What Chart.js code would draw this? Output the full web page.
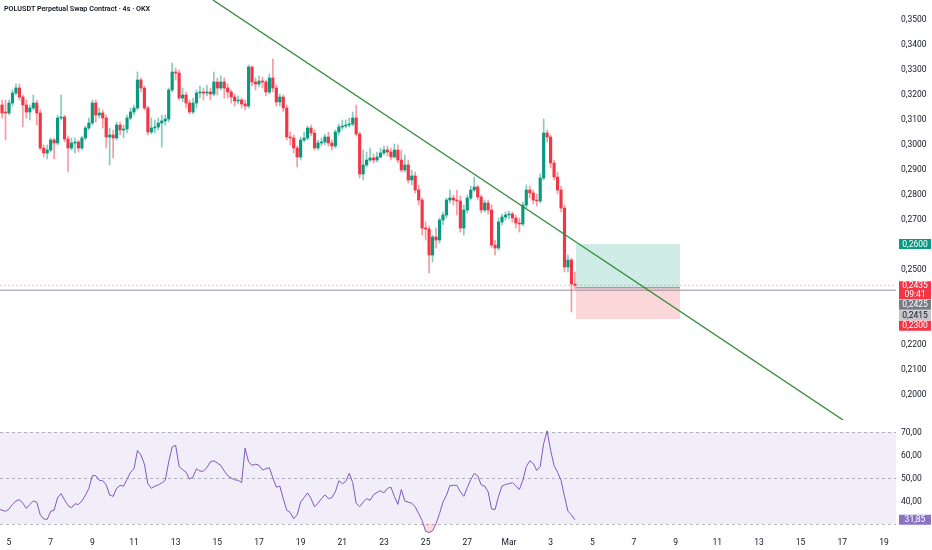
<!DOCTYPE html>
<html>
<head>
<meta charset="utf-8">
<script src="https://cdn.jsdelivr.net/npm/chart.js@4.4.1/dist/chart.umd.min.js"></script>
<style>
  html, body { margin: 0; padding: 0; background: #fff; }
  #wrap { position: relative; width: 932px; height: 550px; overflow: hidden; font-family: Roboto, "Noto Sans", sans-serif; }
  #pricebox { position: absolute; left: 0; top: 0; width: 932px; height: 420px; }
  #rsibox { position: absolute; left: 0; top: 422px; width: 932px; height: 128px; }
  #title { position: absolute; left: 4px; top: 4px; font-size: 7.2px; font-weight: 600; color: #131722; white-space: nowrap; }
</style>
</head>
<body>
<div id="wrap">
  <div id="pricebox"><canvas id="price"></canvas></div>
  <div id="rsibox"><canvas id="rsi"></canvas></div>
  <div id="title">POLUSDT Perpetual Swap Contract · 4s · OKX</div>
</div>
<script>
// 4h candles, first bar Feb 4 12:00 (x axis is day-of-February, Mar 1 = 29)
const firstBarDay = 4.5;
const barDays = 1 / 6;
const firstOpen = 0.3144;

const closes = [
  0.3156,0.3124,0.3124,0.3164,0.3204,0.3224,0.3188,0.3156,0.3128,0.3144,
  0.3164,0.3124,0.2984,0.2964,0.2976,0.3016,0.3004,0.3104,0.3108,0.3020,
  0.2984,0.3004,0.3008,0.2984,0.3024,0.3064,0.3084,0.3164,0.3116,0.3124,
  0.3104,0.3028,0.3036,0.3024,0.3076,0.3056,0.3060,0.3104,0.3128,0.3144,
  0.3256,0.3224,0.3144,0.3048,0.3064,0.3068,0.3084,0.3092,0.3100,0.3216,
  0.3288,0.3284,0.3184,0.3196,0.3164,0.3128,0.3164,0.3204,0.3208,0.3204,
  0.3208,0.3200,0.3248,0.3224,0.3248,0.3224,0.3208,0.3188,0.3172,0.3176,
  0.3160,0.3152,0.3308,0.3248,0.3240,0.3252,0.3248,0.3208,0.3264,0.3224,
  0.3168,0.3188,0.3144,0.3028,0.3024,0.2984,0.2948,0.3016,0.3024,0.3064,
  0.3044,0.2984,0.3004,0.3008,0.3028,0.3004,0.2992,0.3048,0.3068,0.3072,
  0.3076,0.3080,0.3104,0.3040,0.2880,0.2916,0.2936,0.2944,0.2936,0.2948,
  0.2964,0.2976,0.2968,0.2948,0.2976,0.2936,0.2896,0.2916,0.2856,0.2872,
  0.2816,0.2776,0.2664,0.2660,0.2556,0.2628,0.2616,0.2696,0.2716,0.2776,
  0.2784,0.2776,0.2772,0.2664,0.2736,0.2784,0.2816,0.2828,0.2788,0.2736,
  0.2764,0.2736,0.2596,0.2584,0.2688,0.2708,0.2716,0.2720,0.2704,0.2684,
  0.2680,0.2756,0.2816,0.2804,0.2776,0.2772,0.2864,0.3044,0.3028,0.2924,
  0.2868,0.2816,0.2744,0.2508,0.2536,0.2440,0.2435
];

const highs = [
  0.3236,0.3176,0.3176,0.3176,0.3216,0.3240,0.3240,0.3196,0.3176,0.3156,
  0.3196,0.3176,0.3136,0.2996,0.2996,0.3024,0.3024,0.3116,0.3196,0.3116,
  0.3032,0.3024,0.3024,0.3016,0.3032,0.3072,0.3104,0.3176,0.3176,0.3144,
  0.3136,0.3116,0.3064,0.3056,0.3088,0.3088,0.3076,0.3116,0.3144,0.3156,
  0.3288,0.3264,0.3232,0.3152,0.3104,0.3096,0.3104,0.3116,0.3116,0.3224,
  0.3324,0.3304,0.3296,0.3224,0.3208,0.3176,0.3184,0.3216,0.3232,0.3224,
  0.3236,0.3224,0.3288,0.3264,0.3272,0.3264,0.3240,0.3216,0.3200,0.3192,
  0.3184,0.3176,0.3316,0.3312,0.3264,0.3272,0.3268,0.3256,0.3280,0.3340,
  0.3236,0.3200,0.3196,0.3156,0.3048,0.3036,0.2992,0.3028,0.3048,0.3072,
  0.3076,0.3056,0.3016,0.3024,0.3040,0.3048,0.3016,0.3056,0.3080,0.3096,
  0.3096,0.3104,0.3128,0.3156,0.3048,0.2976,0.2968,0.2984,0.2960,0.2968,
  0.2984,0.2992,0.2992,0.2984,0.3000,0.2996,0.2976,0.2956,0.2936,0.2896,
  0.2888,0.2836,0.2784,0.2688,0.2672,0.2636,0.2664,0.2704,0.2728,0.2784,
  0.2816,0.2796,0.2816,0.2792,0.2756,0.2796,0.2832,0.2868,0.2836,0.2796,
  0.2776,0.2776,0.2756,0.2616,0.2704,0.2720,0.2728,0.2732,0.2728,0.2716,
  0.2704,0.2768,0.2836,0.2832,0.2816,0.2800,0.2880,0.3100,0.3056,0.3036,
  0.2936,0.2888,0.2832,0.2756,0.2556,0.2544,0.2488
];

const lows = [
  0.3128,0.3104,0.3016,0.3116,0.3152,0.3196,0.3176,0.3068,0.3104,0.3096,
  0.3136,0.3076,0.2976,0.2948,0.2940,0.2968,0.2940,0.2996,0.3096,0.3008,
  0.2888,0.2976,0.2964,0.2968,0.2976,0.3016,0.3056,0.3076,0.3088,0.3104,
  0.3064,0.2984,0.2916,0.2944,0.3016,0.3036,0.3024,0.3044,0.3096,0.3116,
  0.3136,0.3208,0.3136,0.3036,0.3040,0.3044,0.3056,0.2988,0.3076,0.3088,
  0.3208,0.3256,0.3176,0.3168,0.3144,0.3120,0.3120,0.3144,0.3184,0.3176,
  0.3192,0.3176,0.3192,0.3196,0.3216,0.3184,0.3184,0.3164,0.3152,0.3160,
  0.3144,0.3136,0.3144,0.3232,0.3216,0.3228,0.3224,0.3192,0.3200,0.3208,
  0.3152,0.3152,0.3128,0.3016,0.2996,0.2964,0.2908,0.2936,0.3008,0.3016,
  0.3032,0.2976,0.2976,0.2992,0.2996,0.2992,0.2976,0.2984,0.3036,0.3056,
  0.3064,0.3068,0.3072,0.3032,0.2864,0.2856,0.2908,0.2928,0.2924,0.2928,
  0.2944,0.2956,0.2952,0.2936,0.2944,0.2924,0.2888,0.2888,0.2844,0.2836,
  0.2804,0.2756,0.2636,0.2616,0.2484,0.2528,0.2584,0.2604,0.2676,0.2704,
  0.2764,0.2756,0.2716,0.2648,0.2636,0.2724,0.2776,0.2808,0.2776,0.2724,
  0.2728,0.2720,0.2584,0.2556,0.2576,0.2676,0.2696,0.2700,0.2688,0.2664,
  0.2648,0.2672,0.2744,0.2784,0.2760,0.2752,0.2764,0.2856,0.3008,0.2904,
  0.2856,0.2800,0.2728,0.2488,0.2488,0.2328,0.2420
];

const rsiValues = [
  36.5,36,35.5,36.5,38.5,40,40.6,39,36.8,38.5,
  40,39.5,34,32.2,32,35.5,36,41.5,43.2,40.5,
  38,37,38.8,38.5,40,42.5,45.5,51,51,49,
  48.8,47,42.6,42,45.5,46.8,46.4,49.5,52.5,54,
  62,60,56,47.5,45.5,46.4,47,47.8,49,57,
  63.5,64.2,55,53.6,52.5,49.5,50.5,54,53,53,
  54.5,57,57.5,56.5,55.5,53,51,50,49.2,49,
  48,63,57,55.5,56,55.5,53.5,54,54.5,50,
  46,46.5,41,36,35,32.3,34,39.5,41.5,43.5,
  41,37.5,39,41,42.7,41,41.5,44,48.8,47.5,
  48.5,52,48,39,37.5,39.5,41,40.3,42.7,43.7,
  44.5,43.5,45.5,46,42,38.5,45,40,39.5,39,
  37.5,34.5,31.5,26.8,26.3,27,30.1,34.5,39.5,42.5,
  46.7,46.8,46.8,44,42,45.8,49.3,52,51,47,
  46.5,44,36.5,36.3,42,46.5,47.2,47.5,48,46.5,
  45,49,55,57.5,56.3,53.3,55,65,70.5,62,
  55.5,52.5,49,42,35.5,34,31.85
];

// axis ticks
const priceTicks = [0.35, 0.34, 0.33, 0.32, 0.31, 0.30, 0.29, 0.28, 0.27, 0.26, 0.25, 0.22, 0.21, 0.20];
const rsiTicks = [40, 50, 60, 70];
const rsiLevels = [70, 50, 30];
const dayTicks = [5, 7, 9, 11, 13, 15, 17, 19, 21, 23, 25, 27, 29, 31, 33, 35, 37, 39, 41, 43, 45, 47];
const dayLabels = ['5', '7', '9', '11', '13', '15', '17', '19', '21', '23', '25', '27', 'Mar', '3', '5', '7', '9', '11', '13', '15', '17', '19'];

// drawing objects
const trendX = [14.79, 45.04];
const trendY = [0.3576, 0.1896];
const posStart = 32.22, posEnd = 37.21;
const posTarget = 0.26, posEntry = 0.2425, posStop = 0.23;
const markLine = 0.2415;
const countdown = '09:41';

const xMin = 4.568, xMax = 47.58;
const UP = '#089981', DOWN = '#F23645';
const FONT = 'Roboto, "Noto Sans", sans-serif';

const days = closes.map((_, i) => firstBarDay + i * barDays);
const opens = closes.map((c, i) => (i === 0 ? firstOpen : closes[i - 1]));
const isUp = closes.map((c, i) => c > opens[i]);

const fmt = (v, d) => v.toFixed(d).replace('.', ',');

function fixedAxis(width) {
  return (scale) => {
    scale.width = width;
    scale.paddingTop = 0;
    scale.paddingBottom = 0;
  };
}

function labelBox(ctx, left, top, w, h, bg, fg, lines) {
  ctx.fillStyle = bg;
  ctx.fillRect(left, top, w, h);
  ctx.fillStyle = fg;
  ctx.textAlign = 'center';
  ctx.textBaseline = 'middle';
  const lh = h / lines.length;
  lines.forEach((t, k) => ctx.fillText(t, left + w / 2, top + lh * k + lh / 2 + 0.5));
}

const priceOverlay = {
  id: 'priceOverlay',
  beforeDatasetsDraw(chart) {
    const { ctx, chartArea: a, scales: { x, y } } = chart;
    const x0 = x.getPixelForValue(posStart), x1 = x.getPixelForValue(posEnd);
    const yT = y.getPixelForValue(posTarget), yE = y.getPixelForValue(posEntry), yS = y.getPixelForValue(posStop);
    ctx.save();
    ctx.fillStyle = 'rgba(8,153,129,0.2)';
    ctx.fillRect(x0, yT, x1 - x0, yE - yT);
    ctx.fillStyle = 'rgba(242,54,69,0.2)';
    ctx.fillRect(x0, yE, x1 - x0, yS - yE);

    // last price line
    const yL = y.getPixelForValue(closes[closes.length - 1]);
    ctx.strokeStyle = 'rgba(242,54,69,0.35)';
    ctx.lineWidth = 1;
    ctx.setLineDash([2, 2]);
    ctx.beginPath(); ctx.moveTo(a.left, yL); ctx.lineTo(a.right, yL); ctx.stroke();
    ctx.setLineDash([]);

    // grey horizontal
    const yM = y.getPixelForValue(markLine);
    ctx.strokeStyle = 'rgba(120,123,134,0.55)';
    ctx.lineWidth = 1.5;
    ctx.beginPath(); ctx.moveTo(a.left, yM); ctx.lineTo(a.right, yM); ctx.stroke();

    // entry line of the position
    ctx.strokeStyle = 'rgba(120,123,134,0.9)';
    ctx.lineWidth = 1;
    ctx.beginPath(); ctx.moveTo(x0, yE); ctx.lineTo(x1, yE); ctx.stroke();
    ctx.restore();
  },
  afterDraw(chart) {
    const { ctx, chartArea: a, scales: { y } } = chart;
    const left = a.right + 3, w = 32;
    ctx.save();
    ctx.font = '8.5px ' + FONT;
    labelBox(ctx, left, y.getPixelForValue(posTarget) - 5, w, 10, UP, '#fff', [fmt(posTarget, 4)]);
    const items = [
      { v: closes[closes.length - 1], bg: DOWN, fg: '#fff', lines: [fmt(closes[closes.length - 1], 4), countdown] },
      { v: posEntry, bg: '#787b86', fg: '#fff', lines: [fmt(posEntry, 4)] },
      { v: markLine, bg: '#c4c6cc', fg: '#131722', lines: [fmt(markLine, 4)] },
      { v: posStop, bg: DOWN, fg: '#fff', lines: [fmt(posStop, 4)] }
    ];
    let next = -Infinity;
    items.forEach(it => {
      const h = 10 * it.lines.length - (it.lines.length > 1 ? 2 : 0);
      let top = y.getPixelForValue(it.v) - 4;
      if (top < next) top = next;
      labelBox(ctx, left, top, w, h, it.bg, it.fg, it.lines);
      next = top + h + 0.5;
    });
    ctx.restore();
  }
};

new Chart(document.getElementById('price'), {
  type: 'bar',
  data: {
    datasets: [
      {
        label: 'wicks',
        data: days.map((d, i) => ({ x: d, y: [lows[i], highs[i]] })),
        backgroundColor: isUp.map(u => (u ? 'rgba(8,153,129,0.5)' : 'rgba(242,54,69,0.5)')),
        barThickness: 1,
        grouped: false,
        order: 3
      },
      {
        label: 'bodies',
        data: days.map((d, i) => ({ x: d, y: [opens[i], closes[i]] })),
        backgroundColor: isUp.map(u => (u ? UP : DOWN)),
        barThickness: 2.5,
        minBarLength: 1,
        grouped: false,
        order: 2
      },
      {
        type: 'line',
        label: 'trend',
        data: trendX.map((x, i) => ({ x, y: trendY[i] })),
        borderColor: '#2e8b36',
        borderWidth: 1.3,
        pointRadius: 0,
        order: 1
      }
    ]
  },
  options: {
    responsive: true,
    maintainAspectRatio: false,
    animation: false,
    events: [],
    layout: { padding: 0 },
    plugins: { legend: { display: false }, tooltip: { enabled: false } },
    scales: {
      x: { type: 'linear', display: false, min: xMin, max: xMax, offset: false },
      y: {
        position: 'right',
        min: 0.1896,
        max: 0.3576,
        grid: { display: false, drawTicks: false },
        border: { display: false },
        afterBuildTicks: s => { s.ticks = priceTicks.map(v => ({ value: v })); },
        afterFit: fixedAxis(36),
        ticks: {
          padding: 5,
          labelOffset: 1,
          color: '#131722',
          font: { family: FONT, size: 8.5 },
          callback: v => fmt(v, 4)
        }
      }
    }
  },
  plugins: [priceOverlay]
});

const rsiOverlay = {
  id: 'rsiOverlay',
  beforeDatasetsDraw(chart) {
    const { ctx, chartArea: a, scales: { y } } = chart;
    const yTop = y.getPixelForValue(rsiLevels[0]), yBot = y.getPixelForValue(rsiLevels[2]);
    ctx.save();
    ctx.fillStyle = 'rgba(126,87,194,0.1)';
    ctx.fillRect(a.left, yTop, a.right - a.left, yBot - yTop);
    ctx.strokeStyle = 'rgba(120,123,134,0.55)';
    ctx.lineWidth = 1;
    ctx.setLineDash([3, 3]);
    rsiLevels.forEach(v => {
      const yy = Math.round(y.getPixelForValue(v)) + 0.5;
      ctx.beginPath(); ctx.moveTo(a.left, yy); ctx.lineTo(a.right, yy); ctx.stroke();
    });
    ctx.restore();
  },
  afterDraw(chart) {
    const { ctx, chartArea: a, scales: { y } } = chart;
    const last = rsiValues[rsiValues.length - 1];
    ctx.save();
    ctx.font = '8.5px ' + FONT;
    labelBox(ctx, a.right + 3, y.getPixelForValue(last) - 5, 32, 10, '#8c72c4', '#fff', [fmt(last, 2)]);
    ctx.restore();
  }
};

new Chart(document.getElementById('rsi'), {
  type: 'line',
  data: {
    datasets: [{
      data: days.map((d, i) => ({ x: d, y: rsiValues[i] })),
      borderColor: '#7E57C2',
      borderWidth: 1,
      pointRadius: 0,
      tension: 0,
      fill: { target: { value: 30 }, above: 'rgba(0,0,0,0)', below: 'rgba(242,54,69,0.18)' }
    }]
  },
  options: {
    responsive: true,
    maintainAspectRatio: false,
    animation: false,
    events: [],
    layout: { padding: { top: 4 } },
    plugins: { legend: { display: false }, tooltip: { enabled: false } },
    scales: {
      x: {
        type: 'linear',
        min: xMin,
        max: xMax,
        offset: false,
        grid: { display: false, drawTicks: false },
        border: { display: false },
        afterBuildTicks: s => { s.ticks = dayTicks.map(v => ({ value: v })); },
        afterFit: s => { s.height = 16; s.paddingLeft = 0; s.paddingRight = 0; },
        ticks: {
          padding: 4,
          maxRotation: 0,
          autoSkip: false,
          color: '#131722',
          font: { family: FONT, size: 8.5 },
          callback: (v, i) => dayLabels[i]
        }
      },
      y: {
        position: 'right',
        min: 25.65,
        max: 72.6,
        grid: { display: false, drawTicks: false },
        border: { display: false },
        afterBuildTicks: s => { s.ticks = rsiTicks.map(v => ({ value: v })); },
        afterFit: fixedAxis(36),
        ticks: {
          padding: 5,
          labelOffset: 1,
          color: '#131722',
          font: { family: FONT, size: 8.5 },
          callback: v => fmt(v, 2)
        }
      }
    }
  },
  plugins: [rsiOverlay]
});
</script>
</body>
</html>
